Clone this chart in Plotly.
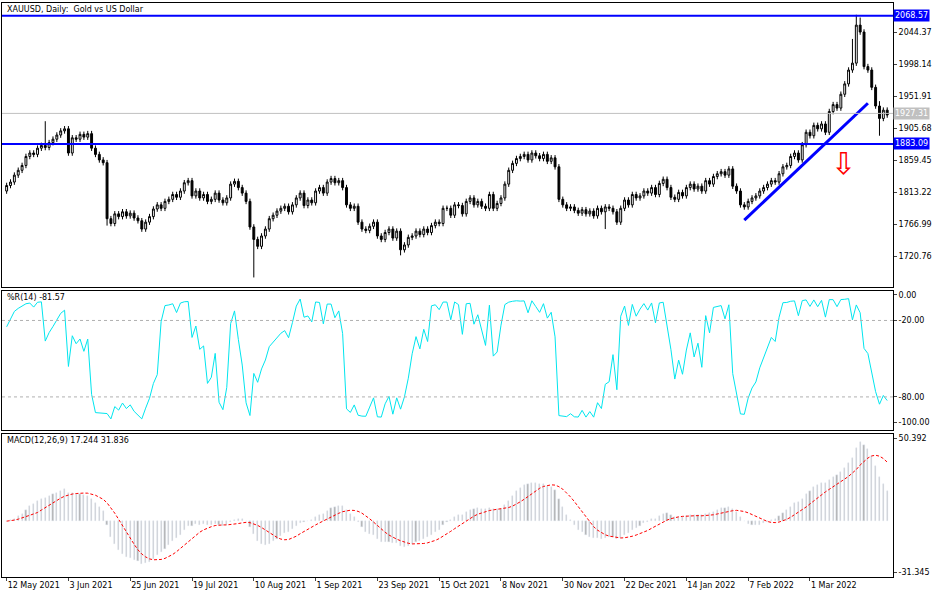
import pandas as pd
import plotly.graph_objects as go
from plotly.subplots import make_subplots

# daily closes, 12 May 2021 .. mid March 2022
closes = [
    1823, 1828, 1838, 1845, 1852, 1865, 1870, 1868, 1877, 1881, 1878, 1885, 1890, 1896, 1902, 1905,
    1870, 1892, 1890, 1897, 1893, 1898, 1877, 1868, 1860, 1856,
    1775, 1768, 1782, 1778, 1785, 1779, 1783, 1776, 1772, 1760, 1770, 1778, 1789, 1795, 1790, 1800,
    1803, 1810, 1806, 1815,
    1827, 1830, 1808, 1815, 1805, 1810, 1800, 1803, 1812, 1802, 1798, 1805, 1825, 1829, 1820, 1812, 1800,
    1763, 1745, 1735, 1750, 1760, 1775, 1780, 1786, 1790, 1793, 1785, 1795, 1805,
    1812, 1794, 1802, 1798, 1815, 1820, 1812, 1828, 1833, 1827, 1830, 1820,
    1795, 1790, 1793, 1770, 1760, 1758, 1764, 1770, 1750, 1745, 1755, 1760, 1747, 1757, 1730, 1737,
    1748, 1750, 1757, 1752, 1760, 1755, 1765, 1770, 1768,
    1790, 1790, 1780, 1795, 1794, 1782, 1800, 1805, 1795, 1800, 1793, 1790, 1810, 1790, 1797, 1805,
    1825, 1845, 1855, 1862, 1865,
    1868, 1860, 1870, 1866, 1862, 1868, 1858, 1863, 1850,
    1803, 1795, 1790, 1792, 1787, 1783, 1788, 1782, 1786, 1779, 1790, 1785, 1792, 1790, 1785, 1770,
    1790, 1802, 1795, 1810, 1805, 1808, 1815, 1812, 1820, 1810, 1826, 1832, 1820, 1806, 1803, 1813,
    1808, 1820, 1825, 1818, 1822, 1815,
    1830, 1825, 1836, 1840, 1843, 1838, 1847, 1822, 1815,
    1795, 1792, 1800, 1805, 1808, 1815, 1820, 1825, 1830, 1828, 1840, 1850, 1852, 1865, 1870, 1860,
    1882, 1900, 1895, 1910, 1905, 1912, 1900, 1930,
    1940, 1935, 1955, 1970, 1990, 2000, 2055, 2045, 1995, 1990, 1965, 1938, 1920, 1932, 1925,
]
first_open = 1815
# notable wick extremes (bar index -> price)
spike_highs = {10: 1916, 220: 2070, 221: 2066, 219: 2035, 226: 1945}
spike_lows = {64: 1690, 26: 1765, 102: 1722, 226: 1895, 155: 1760}

tick_labels = ["12 May 2021", "3 Jun 2021", "25 Jun 2021", "19 Jul 2021", "10 Aug 2021",
               "1 Sep 2021", "23 Sep 2021", "15 Oct 2021", "8 Nov 2021", "30 Nov 2021",
               "22 Dec 2021", "14 Jan 2022", "7 Feb 2022", "1 Mar 2022"]
price_ticks = [2044.37, 1998.14, 1951.91, 1905.68, 1859.45, 1813.22, 1766.99, 1720.76]
resistance, support, last_price = 2068.57, 1883.09, 1927.31
trend_x, trend_y = [191, 223], [1773, 1942]

n = len(closes)
idx = list(range(n))
opens = [first_open] + closes[:-1]
highs = [spike_highs.get(i, max(o, c) + 4) for i, (o, c) in enumerate(zip(opens, closes))]
lows = [spike_lows.get(i, min(o, c) - 4) for i, (o, c) in enumerate(zip(opens, closes))]

df = pd.DataFrame({"o": opens, "h": highs, "l": lows, "c": closes})
hh = df["h"].rolling(14, min_periods=1).max()
ll = df["l"].rolling(14, min_periods=1).min()
wpr = (hh - df["c"]) / (hh - ll) * -100
macd = df["c"].ewm(span=12, adjust=False).mean() - df["c"].ewm(span=26, adjust=False).mean()
signal = macd.rolling(9, min_periods=1).mean()

fig = make_subplots(rows=3, cols=1, shared_xaxes=True, vertical_spacing=0)
fig.add_trace(go.Candlestick(x=idx, open=opens, high=highs, low=lows, close=closes,
                             increasing=dict(fillcolor="white", line=dict(color="black", width=1)),
                             decreasing=dict(fillcolor="black", line=dict(color="black", width=1)),
                             whiskerwidth=0, showlegend=False), row=1, col=1)
fig.add_trace(go.Scatter(x=trend_x, y=trend_y, mode="lines", line=dict(color="#0000ff", width=3),
                         showlegend=False), row=1, col=1)
fig.add_trace(go.Scatter(x=idx, y=wpr, mode="lines", line=dict(color="#00e5ee", width=1),
                         showlegend=False), row=2, col=1)
fig.add_trace(go.Bar(x=idx, y=macd, marker_color="#b0b0b0", width=0.3, showlegend=False), row=3, col=1)
fig.add_trace(go.Scatter(x=idx, y=signal, mode="lines", line=dict(color="red", width=1, dash="3px,2px"),
                         showlegend=False), row=3, col=1)

for lvl in [resistance, support]:
    fig.add_hline(y=lvl, line=dict(color="#0000ff", width=2), row=1, col=1)
fig.add_hline(y=last_price, line=dict(color="#c0c0c0", width=1), row=1, col=1)
for lvl in [-20, -80]:
    fig.add_hline(y=lvl, line=dict(color="#b0b0b0", width=1, dash="3px,3px"), row=2, col=1)

# red hollow arrow
fig.add_annotation(x=216.8, y=1855, xref="x", yref="y", text="⇩", showarrow=False,
                   font=dict(family="DejaVu Sans", size=30, color="red"))

font = dict(family="DejaVu Sans", size=8, color="black")
ax = dict(showline=True, mirror=True, linecolor="black", linewidth=1, showgrid=False, zeroline=False,
          ticks="outside", ticklen=3, tickfont=font, side="right", automargin=False)
fig.update_yaxes(**ax)
fig.update_yaxes(row=1, col=1, range=[1676, 2087], tickvals=price_ticks,
                 ticktext=[f"{v:.2f}" for v in price_ticks])
fig.update_yaxes(row=2, col=1, range=[-106, 3], tickvals=[0, -20, -80, -100],
                 ticktext=["0.00", "-20.00", "-80.00", "-100.00"])
fig.update_yaxes(row=3, col=1, range=[-34, 53], tickvals=[50.392, -31.345], ticktext=["50.392", "-31.345"])
fig.update_xaxes(showline=True, mirror=True, linecolor="black", showgrid=False, zeroline=False,
                 range=[-1.2, 229.5], rangeslider_visible=False, automargin=False)
fig.update_xaxes(row=3, col=1, tickvals=[i * 16 for i in range(len(tick_labels))], ticktext=tick_labels,
                 tickfont=font, ticks="outside", ticklen=3, ticklabelposition="outside right",
                 tickangle=0)

fig.update_layout(
    width=950, height=600, margin=dict(l=2, r=57, t=3, b=23),
    plot_bgcolor="white", paper_bgcolor="white", bargap=0,
    yaxis=dict(domain=[0.505, 1]), yaxis2=dict(domain=[0.256, 0.498]), yaxis3=dict(domain=[0, 0.249]),
)

def tag(y, text, bg, fg, yref):
    fig.add_annotation(x=1, xref="paper", y=y, yref=yref, text=text, showarrow=False, xanchor="left",
                       bgcolor=bg, font=dict(family="DejaVu Sans", size=8, color=fg), borderpad=1)

tag(resistance, "2068.57", "#0000ff", "white", "y")
tag(support, "1883.09", "#0000ff", "white", "y")
tag(last_price, "1927.31", "#c0c0c0", "white", "y")

for y, text in [(1, "XAUUSD, Daily:  Gold vs US Dollar"), (0.498, "%R(14) -81.57"),
                (0.249, "MACD(12,26,9) 17.244 31.836")]:
    fig.add_annotation(x=0.003, xref="paper", y=y, yref="paper", text=text, showarrow=False,
                       xanchor="left", yanchor="top", font=font)

fig.write_html("out.html", post_script="document.body.style.margin='0';",
               config={"displayModeBar": False})
